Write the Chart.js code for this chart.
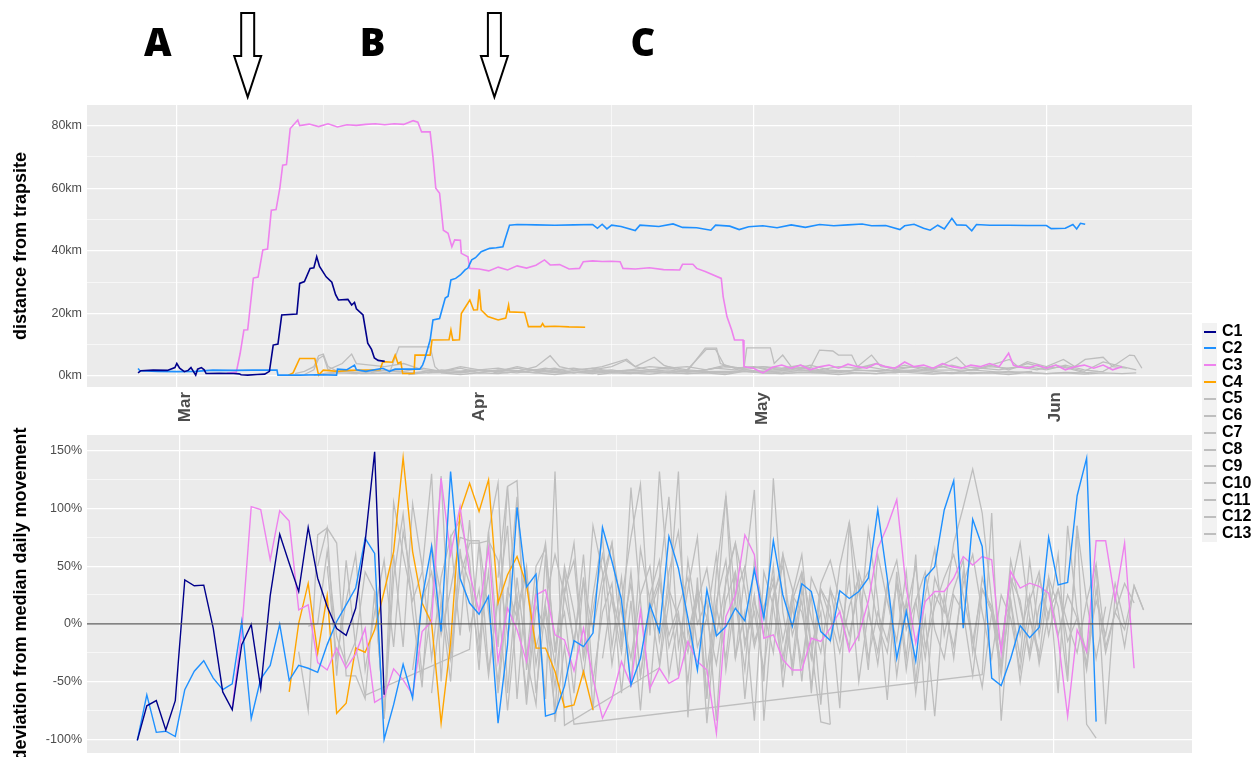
<!DOCTYPE html>
<html>
<head>
<meta charset="utf-8">
<script src="https://cdn.jsdelivr.net/npm/chart.js@4.4.0/dist/chart.umd.min.js"></script>
<style>
  html, body { margin: 0; padding: 0; background: #fff; width: 1257px; height: 757px; overflow: hidden; }
  #top { position: absolute; left: 0; top: 0; }
  #bottom { position: absolute; left: 0; top: 418px; }
  #legend { position: absolute; left: 1202px; top: 323px; font-family: 'Liberation Sans', Arial, sans-serif; }
  .row { position: relative; height: 16.86px; width: 60px; }
  .key { position: absolute; left: 0; top: 0; width: 15px; height: 100%; background: #f2f2f2; }
  .key i { position: absolute; left: 1.5px; right: 1.5px; top: 7.5px; height: 2px; }
  .lab { position: absolute; left: 20px; top: 0; line-height: 16.86px; font-size: 16px; font-weight: bold; color: #000; }
</style>
</head>
<body>
<canvas id="bottom" width="1257" height="352"></canvas>
<canvas id="top" width="1257" height="430"></canvas>
<div id="legend"></div>
<script>
// Series names and colours
const seriesNames = ['C1', 'C2', 'C3', 'C4', 'C5', 'C6', 'C7', 'C8', 'C9', 'C10', 'C11', 'C12', 'C13'];
const seriesColors = ['#00008B', '#1E90FF', '#EE82EE', '#FFA500', '#BEBEBE', '#BEBEBE', '#BEBEBE', '#BEBEBE', '#BEBEBE', '#BEBEBE', '#BEBEBE', '#BEBEBE', '#BEBEBE'];

// x axis: days since 1 March
const monthDays = [0, 31, 61, 92];
const monthLabels = ['Mar', 'Apr', 'May', 'Jun'];
const gridDays = [0, 15.5, 31, 46, 61, 76.5, 92];

// annotations above the top panel
const arrowDays = [7.5, 33.6];
const letterDays = [-2, 20.7, 49.3];
const letterTexts = ['A', 'B', 'C'];

// top panel: distance from trapsite [day, km]
const distC1 = [[-4.1,1],[-3.8,1.7],[-2.5,1.9],[-1,1.8],[-0.2,2.7],[0,4],[0.3,2.5],[0.8,1.4],[1.2,1.8],[1.5,2.7],[2,0.3],[2.2,2.2],[2.6,2.7],[2.9,2],[3.1,0.8],[4.5,0.9],[6,0.8],[6.6,0.7],[6.8,0.4],[7.5,0.3],[8.5,0.5],[9.3,0.6],[9.8,1.5],[10.2,9.9],[10.7,10.2],[11.1,19.5],[12.7,19.8],[13,29.6],[13.5,30.2],[14.1,34.4],[14.5,34.6],[14.8,38.1],[15.1,35],[15.8,31.7],[16.4,30],[16.8,26],[17.1,24.3],[18.1,24.5],[18.5,22.7],[18.8,23.5],[19,21.5],[19.7,19.5],[20.2,10.5],[20.6,8.5],[20.9,5.8],[21.3,5],[22,4.7]];
const distC2 = [[-4.1,2.4],[-3.9,1.7],[-2,1.5],[0,1.4],[2,1.5],[3.8,1.9],[6,1.8],[8,1.9],[10.6,1.9],[10.7,0.3],[13,0.3],[15,0.4],[16.9,0.3],[17,2.2],[18,2],[18.8,3.5],[19,2],[20,1.5],[21.8,2.5],[22.5,1.5],[23.1,2.2],[25.7,2.2],[26,3.5],[26.2,5.1],[26.8,11.5],[27.1,17.9],[27.8,18.4],[28.4,24.9],[28.7,25.5],[29,30.7],[29.5,31.2],[30,32.3],[30.5,33.9],[30.8,34.5],[31.2,37.1],[31.6,37.8],[32.2,39.7],[33.1,40.8],[33.8,41],[34.5,41.3],[34.7,43.4],[35.2,48.2],[36,48.4],[38,48.3],[40,48.2],[42,48.3],[44,48.4],[44.5,47.2],[45,48.5],[45.5,47],[46,48.2],[47,47.8],[48.5,46.5],[49,48.2],[51,47.8],[52.5,48.6],[53.5,47.5],[55,47.4],[56.5,46.6],[57,48.2],[58.5,47.9],[59.5,46.8],[60.5,47.7],[62,48],[63.5,47.4],[65,48.3],[66.5,47.5],[68,48.4],[69.5,48],[71,48.3],[72.5,48.6],[73.5,48],[75,48.1],[76.5,46.8],[77,48],[78,48.5],[79,47.2],[79.7,46.6],[80.5,48.2],[81.2,47],[82,50.4],[82.5,48.3],[83.5,48.2],[84.1,46.4],[84.6,48.4],[86,48.2],[88,48.2],[90,48.1],[92,48.1],[92.5,47.1],[94,47.2],[94.8,48.4],[95.2,47],[95.6,48.8],[96.1,48.5]];
const distC3 = [[5.3,0.9],[6.3,1.3],[6.7,7.2],[7.1,14.7],[7.5,14.8],[8.1,31.3],[8.6,31.6],[9.1,40.3],[9.6,40.6],[10,53],[10.5,53.2],[10.9,60],[11.2,67.4],[11.6,67.6],[12,79.1],[12.8,81.8],[13,80],[14,80.5],[15,79.7],[16,80.6],[17,79.6],[18,80.3],[19,80.1],[20,80.4],[21,80.6],[22,80.3],[23,80.6],[24,80.4],[25,81.6],[25.5,81.1],[25.9,78],[26.8,78],[27.1,70],[27.4,60],[27.8,58.4],[28.2,46.6],[28.7,45.6],[29.1,41.3],[29.4,43.5],[30,43.4],[30.1,39.2],[30.8,38.1],[31,34.4],[32,34.2],[33,33.6],[34,34.8],[35,33.9],[36,35.2],[37,34.5],[38,35.4],[38.9,37.1],[39.5,35.5],[40.5,35.6],[41.5,34.2],[42.6,34.4],[43,36.5],[44,36.8],[45,36.6],[46,36.7],[46.9,36.5],[47.2,34.4],[48.5,34.2],[50,34.6],[51.5,34],[53.2,33.9],[53.5,35.7],[54.6,35.7],[55,34.4],[55.9,33.4],[57.6,31.2],[57.8,25.4],[58.2,19],[58.7,14.7],[59,11.5],[59.9,11.5],[60,3],[61,2.5],[62,1],[63,2.8],[64,3.5],[65,2.5],[66,3.5],[67,2],[68,3],[69,3.5],[70,2.5],[71,3.8],[72,3],[73,2.5],[74,4],[75,3],[76,2.5],[77,4.5],[78,3],[79,3.5],[80,2.5],[81,4],[82,3],[83,2.5],[84,3.5],[85,3],[86,4],[87,3],[88,7.3],[88.5,3.5],[89,3],[90,2.5],[91,3.5],[92,2.5],[93,3.5],[94,2],[95,3],[96,3.5],[97,2.5],[98,3.5],[99,2],[100,3]];
const distC4 = [[11.8,0.3],[12.3,1],[13,5.6],[14.6,5.6],[14.8,3],[15,0.3],[15.5,1.9],[17,1.5],[18.3,1.8],[20,1.9],[21.5,2],[21.8,4.6],[22.8,4.4],[23.1,6.7],[23.4,4],[23.7,4.5],[23.9,0.8],[25.1,0.8],[25.2,6.7],[26.8,6.7],[27,11.5],[28.8,11.6],[29,14.7],[29.2,11.5],[29.9,11.6],[30.1,20],[31,24.3],[31.4,21.1],[31.8,21.2],[32,27.7],[32.2,21.1],[32.9,19],[34,17.9],[34.8,18.5],[35.1,22.7],[35.2,20.5],[36.8,20.3],[37.2,15.8],[38.5,15.8],[38.7,16.8],[38.9,15.8],[40,15.9],[41.5,15.7],[43.2,15.6]];
const distC5 = [[12.5,0.8],[13.5,1.5],[14.5,3],[15,6.5],[15.5,7],[16,3],[17,1.5],[19,1.2],[21,2],[23,1.5],[25,1],[27,1.8],[29,1.2],[31,2],[33,1.5],[35,1],[37,2.2],[39,1.5],[41,1.2],[84.5,2],[86,3.5],[88,2],[90,4],[92,2.5],[94,3],[96,1.5],[98,4.5],[100,3],[101.5,2]];
const distC6 = [[13.5,0.5],[14.5,2],[15,5.5],[15.5,6.5],[16,2],[17.5,4],[18.5,7],[19,4],[20.5,3.5],[22,3],[24,4],[26,2],[28,1.5],[30,2.5],[32,1],[34,1.8],[36,2.5],[38,1.5],[40.5,1],[50.5,2],[52,3],[54,2],[56,8.5],[57,8.5],[58,3],[60,2.5],[62,3],[64,2],[66,2.5],[68.5,1.5]];
const distC7 = [[14.5,0.3],[16,1],[18,1.5],[19.5,0.8],[30.5,1.2],[32,2],[34,1.5],[36,3],[38,1.8],[40,2.5],[42,1],[44,2],[46,3],[47.5,5],[48.5,3],[50.5,6],[51.5,3.5],[53,2],[55,1.5],[57,2.5],[59,2],[61,3],[63,1.5],[65,2],[67,3.5],[69,2],[71,1.5],[73,3],[75,2],[77,3.5],[79,2],[81,3],[83,1.5],[85,2.5],[87,2],[89,3],[91,2],[93,3.5],[95.5,1.5],[96.5,0.8]];
const distC8 = [[15.5,0.5],[17,1],[19,0.8],[21,1.5],[22.5,1],[23.5,9.3],[26.8,9.3],[27.3,3],[28,1],[30,0.5],[32,1],[34,0.8],[36,1.5],[38,1],[40,0.5],[42,1.2],[44,0.8],[46,1.5],[48,1],[50,0.6],[52,1.2],[54,0.8],[56,1],[58,0.5],[60,1.5],[62,1],[64,0.8],[66,1.2],[68,1],[70,0.5],[72,1],[74,0.8],[76,1.5],[78,1],[80,0.6],[82,1.2],[84,0.8],[86,1],[88,0.5],[90,1.2],[92,0.8],[94,1],[96,0.6],[98,1],[100,0.8],[101.5,1]];
const distC9 = [[20.5,1],[22,2],[24,1.5],[26,2.5],[28,1.5],[30,3],[32,2],[34,2.5],[36,1.5],[38,3],[39.5,6.5],[40.5,3],[42,2],[44,2.5],[46,1.5],[48,2],[50,3],[52,2.5],[54,1.5],[55.9,8.9],[57.1,8.9],[57.5,4],[59,2.5],[61,3],[63,2],[65,2.5],[67,1.5],[68.5,1]];
const distC10 = [[24.5,0.5],[26,1],[28,2],[30,1.5],[32,1.2],[34,2],[36,1.5],[38,1],[40,2],[42,2.5],[44,1.5],[46,2],[48,1],[50,1.5],[52,2],[54,1.2],[56,2],[58,3],[60,2.5],[60.3,9],[62.8,9],[63.2,4],[64.1,6.7],[65,3],[67,2.5],[68,8.3],[69.4,8],[70,6.7],[71.4,6.7],[72,3],[73.5,6.7],[74.5,3],[76,2.5],[78,3],[80,2],[82.5,6],[83.5,3],[85,2.5],[88.1,5.3],[89,3],[90,4.6],[92,3],[93.8,5.3],[95,3],[96.1,5.3],[98,6],[99,3],[100.5,2.5]];
const distC11 = [[26.5,1],[28,1.5],[30,1],[32,2],[34,1.5],[36,1],[38,2],[40,1.5],[42,1],[44,1.8],[46,1.2],[48,2],[50,1.5],[52,1],[54,2],[56,1.5],[58,1],[60,2],[62,1.5],[64,1],[66,2],[68,1.5],[70,1],[72,2],[74,1.5],[76,1],[78,2],[80,1.5],[82,1],[84,2],[86,1.5],[88,1],[90.5,1.5]];
const distC12 = [[33.5,1],[35,2],[37,1.5],[39,2.5],[41,1.5],[43,2],[45,3],[47.6,5.4],[48.5,3],[50,2],[52,2.5],[54,3],[56,2],[58,3.5],[60,2],[62,3],[64,2.5],[66,3.5],[68,2],[70,3],[72,2.5],[74,4],[76,2],[78,3],[80,2.5],[82,3.5],[84,2],[86,3],[88,2.5],[90,3],[92,2],[94,3.5],[96,2],[97.5,1.5]];
const distC13 = [[44.5,0.5],[46,1],[48,0.8],[50,1.5],[52,1],[54,0.8],[56,1.2],[58,1],[60,1.5],[62,1],[64,0.8],[66,1.2],[68,1],[70,1.5],[72,1],[74,0.8],[76,1.2],[78,1.5],[80,1],[82,0.8],[84,1.2],[86,1],[88,1.5],[90,1],[92,0.8],[94,1.2],[96,1],[98,1.5],[99.5,4],[100.8,6.7],[101.3,6.5],[102.1,2.5]];

// bottom panel: daily deviation from median movement (%), one value per day from the start day
const devStart = [-4.5, -4.5, 5.5, 11.5, 12.5, 13.5, 14.5, 15.5, 20.5, 24.5, 26.5, 33.5, 44.5];
const devC1 = [-101, -71, -66.5, -92, -66.5, 38, 33, 33.5, -4, -59, -74.5, -18, -0.5, -56, 24.5, 77.6, 52.5, 28, 83.5, 39.5, 15, -4, -10, 13.5, 71, 149, -61.5];
const devC2 = [-101, -61.5, -94, -93, -97.6, -57, -41, -32, -47, -57, -52, 2, -82, -47.7, -36, -0.5, -49, -36, -38.5, -42, -18, 2, 16.5, 31, 74, 61, -100, -70, -35, -64.5, 22, 67, -6.7, 132, 39.5, 18, 8.3, 24, -86, -18, 101, 32, 43, -80, -77.5, -54, -14.5, -19.7, -8, 83.5, 54, 21, -53, -30, 16.5, -6.7, 75.6, 48, 5, -40, 29.5, -10.4, -2.3, 13.5, 2.6, 47, 5, 72, 25, -2.3, 34.7, 28, -6.7, -14.5, 28.6, 22, 28, 39.5, 99, 39.5, -30, 10.7, -32, 40, 49.6, 98.7, 124, -3.8, 90.6, 67, -47, -53.5, -30, -1.5, -12, -3.2, 74.8, 33.8, 35.8, 111, 143.5, -84.7];
const devC3 = [-73, -6.7, 101.6, 99, 55.5, 98, 89, 12, 16.5, -33.5, -40, -21, -38.5, -26, -4, -68, -63, -39, -48.5, -61.5, -6.7, 2, 126, 60, 101.6, 44, 10.7, 65.5, -32.7, 13.5, -5.2, -32.7, 25, 29.5, -9.5, -14, -40.7, -3.8, -47, -81.8, -64.5, -32.7, -53, 11.3, -55.8, -38.5, -51.5, -47, -15.3, -32.7, -40, -94.8, 6.3, 25, 77, 60, -12.5, -9.5, -31, -40, -40, -12.5, -15.3, -3.8, 10.7, -24, -9.5, 19.3, 65.5, 84.3, 107.5, 31, -16.8, 19.3, 28, 28, 39.5, 58.3, 51, 58.3, 55.5, -25.5, 45.3, 31, 35.2, 32.5, 26.5, -12.5, -80, -5.2, -24, 72, 72, 20.8, 70, -38.5];
const devC4 = [-59, 0.5, 35, -25.5, 24.5, -77.5, -68.8, -21, -24.6, -5.2, 28, 62.6, 144, 62.6, 18, 0.5, -86, -16.8, 97.3, 121.8, 97.3, 124.8, 18, 42.5, 58.3, 33.8, -21, -21, -41.3, -72.3, -70.2, -41.3, -74.5];
const devC5 = [-24, -75, 77, 83, 70, -45, -45, -65, 28, -82, 105, 60, 20, 45, 130, -50, 75, 90, 55, -40, 80, 122, -60, 40, -30, -70, 60, -85, -20, -87, ...gap(42), -44, 96, -84, 20, -30, 55, -10, 40, -60, 85, 10, -35, 50, -87, 25, -20, 33, 12];
const devC6 = [-2, 0, 63, -11, -35, -15, 45, 28, -82, 40, 95, 10, -55, 68, 25, -30, 60, 35, -25, 80, -20, 119, 124, -40, 30, -65, 132, -88, ...gap(9), -38, 20, 132, -81, 40, -86, 10, 111, -30, 45, 116, -84, 20, 60, -45, 30, -20, -85, -87];
const devC7 = [50, 83, -45, 55, -20, -62, ...gap(10), -22, 70, -40, 20, 85, -65, 40, -20, 10, -55, 25, 70, -30, 85, 45, -35, 20, 75, 121, -10, 132, 30, -45, 55, 0, 20, -84, 40, 70, -20, 25, -50, 126, 10, -35, 45, -60, 30, 15, -73, 88, -15, 82, 20, -66, 45, -30, 60, -75, 25, 10, 70, 101, 134, 96, 20, -40, 55, 15, -25, 40, 5, 60, -45, 85, -87, -99];
const devC8 = [50, -30, 20, 60, -40, 10, 55, -20, 80, 35, -45, 15, 128, -30, 40, 70, 70, 72, 55, -10, 25, -70, 15, -5, -75, 30, 55, -30, 12, 60, 20, -25, 45, -45, 10, 35, -10, 15, 40, -20, 5, 60, -40, 25, 50, -15, 10, 35, -30, 20, 45, 5, -25, 30, 10, -20, 45, 15, -35, 30, 55, -5, 20, -30, 40, 15, -20, 35, 60, 10, -30, 25, 5, -40, 20, 45, -10, 30, 0, -25, 20, 52, -20, 10, -5, 33, 12];
const devC9 = [28, -82, 60, -20, 104, 50, -30, 40, 75, -10, 90, -15, 45, -60, 20, 110, -30, 50, 65, -20, 10, -60, 40, -75, 30, 70, -20, 118, 20, -60, 40, 110, -20, 30, 75, -40, 20, 55, -30, 10, -84, 45, 15, -40, 25, 60, -20, 10, -87];
const devC10 = [-40, 20, 45, -10, 30, 75, 72, 72, 10, -50, 30, 5, 45, -35, 20, 60, 25, -15, 38, -5, 40, 70, 10, -30, 25, 50, -15, 30, 5, -25, 20, 48, -10, 35, 70, 30, -20, 15, 40, -15, 25, 10, -30, 35, 55, 20, -10, 30, 45, 0, -25, 35, 10, 50, -20, 15, 40, 60, 25, -15, 30, 10, -20, 40, 20, -30, 15, 35, -10, 25, 5, -40, 30, -25, 10, 35, 18];
const devC11 = [-60, 20, -50, 65, -5, 30, -45, 25, -75, 10, 50, -60, 15, -35, 45, -20, 60, -50, 10, 35, -60, 20, -75, 25, 55, -45, 5, -20, 30, -60, 15, -30, 45, -65, 20, -10, 50, -55, 15, -35, 25, -70, 30, -15, 40, -50, 10, -25, 35, -45, 20, -60, 5, -80, 25, -30, 45, -15, -55, 10, -35, 20, -50, 5, -25];
const devC12 = [40, 119, 10, -60, 30, 70, -25, 50, 10, -45, 25, 75, -20, 40, -55, 65, 20, -35, 45, 80, -10, 30, -65, 45, 111, 20, -40, 55, 10, -25, 60, 30, -50, 40, 20, -15, 50, 88, 30, -40, 60, 20, -15, 45, -50, 25, 65, -10, 30, 55, -25, 40, 10, -45, 30, 70, 5, -30, 40, 15, -50, 85, 20, -30, 15];
const devC13 = [-30, 25, -10, 35, -45, 15, 40, -20, 10, -50, 30, 5, -35, 20, 45, -15, 10, -40, 25, 50, -10, 20, -55, 30, 5, -25, 15, 40, -30, 10, -15, 35, -40, 20, 45, -5, -30, 25, 10, -45, 30, 15, -20, 40, -10, 25, -35, 10, 30, -15, 5, -25, 20, -10, 35, 0];

// axis ticks
const kmTicks = [0, 10, 20, 30, 40, 50, 60, 70, 80];
const pctTicks = [-100, -75, -50, -25, 0, 25, 50, 75, 100, 125, 150];

function gap(n) {
  return Array(n).fill(null);
}

const distSeries = [distC1, distC2, distC3, distC4, distC5, distC6, distC7, distC8, distC9, distC10, distC11, distC12, distC13];
const devSeries = [devC1, devC2, devC3, devC4, devC5, devC6, devC7, devC8, devC9, devC10, devC11, devC12, devC13];

Chart.defaults.font.family = "'Liberation Sans', Arial, sans-serif";
Chart.defaults.animation = false;

// grey panel background, drawn before the grid
const panelBg = {
  id: 'panelBg',
  beforeDraw(chart) {
    const { ctx, chartArea: a } = chart;
    ctx.save();
    ctx.fillStyle = '#EBEBEB';
    ctx.fillRect(a.left, a.top, a.right - a.left, a.bottom - a.top);
    ctx.restore();
  }
};

// A / B / C labels and hollow arrows above the top panel
const markers = {
  id: 'markers',
  afterDraw(chart) {
    const { ctx } = chart;
    const x = chart.scales.x;
    ctx.save();
    ctx.fillStyle = '#000';
    ctx.font = "800 38px 'Open Sans', 'Liberation Sans', sans-serif";
    ctx.textAlign = 'center';
    ctx.textBaseline = 'alphabetic';
    letterDays.forEach((d, i) => ctx.fillText(letterTexts[i], x.getPixelForValue(d), 56));
    ctx.lineWidth = 2;
    ctx.strokeStyle = '#000';
    ctx.fillStyle = '#fff';
    arrowDays.forEach(d => {
      const cx = x.getPixelForValue(d);
      ctx.beginPath();
      ctx.moveTo(cx - 6.5, 13);
      ctx.lineTo(cx + 6.5, 13);
      ctx.lineTo(cx + 6.5, 56);
      ctx.lineTo(cx + 13.5, 56);
      ctx.lineTo(cx, 97);
      ctx.lineTo(cx - 13.5, 56);
      ctx.lineTo(cx - 6.5, 56);
      ctx.closePath();
      ctx.fill();
      ctx.stroke();
    });
    ctx.restore();
  }
};

function xScale(min, max, showLabels, height) {
  return {
    type: 'linear',
    min, max,
    afterBuildTicks: s => { s.ticks = gridDays.map(v => ({ value: v })); },
    afterFit: s => { s.height = height; s.paddingLeft = 0; s.paddingRight = 0; },
    border: { display: false },
    grid: {
      color: '#fff',
      drawTicks: false,
      lineWidth: c => monthDays.includes(c.tick.value) ? 1.2 : 0.6
    },
    ticks: {
      display: showLabels,
      autoSkip: false,
      minRotation: 90,
      maxRotation: 90,
      padding: 5,
      labelOffset: 9,
      color: '#4d4d4d',
      font: { size: 17, weight: 'bold' },
      callback: v => monthDays.includes(v) ? monthLabels[monthDays.indexOf(v)] : ''
    }
  };
}

function yScale(min, max, ticks, major, suffix, title) {
  return {
    min, max,
    afterBuildTicks: s => { s.ticks = ticks.map(v => ({ value: v })); },
    afterFit: s => { s.width = 87; s.paddingTop = 0; s.paddingBottom = 0; },
    border: { display: false },
    grid: {
      color: '#fff',
      drawTicks: false,
      lineWidth: c => c.tick.value % major === 0 ? 1.2 : 0.6
    },
    ticks: {
      padding: 5,
      color: '#4d4d4d',
      font: { size: 12.5 },
      callback: v => v % major === 0 ? v + suffix : ''
    },
    title: {
      display: true,
      text: title,
      color: '#000',
      font: { size: 18, weight: 'bold' },
      padding: { top: 10, bottom: 0 }
    }
  };
}

function lineDataset(i, data, grayWidth, colorWidth) {
  return {
    label: seriesNames[i],
    data,
    borderColor: seriesColors[i],
    borderWidth: i < 4 ? colorWidth : grayWidth,
    pointRadius: 0,
    tension: 0,
    spanGaps: true,
    fill: false
  };
}

// Top panel: distance from trapsite
new Chart(document.getElementById('top'), {
  type: 'line',
  data: {
    datasets: distSeries.map((s, i) => lineDataset(i, s.map(([x, y]) => ({ x, y })), 1.3, 1.6))
  },
  options: {
    responsive: false,
    devicePixelRatio: 1,
    layout: { padding: { top: 105, right: 65, left: 0, bottom: 0 } },
    plugins: { legend: { display: false }, tooltip: { enabled: false } },
    scales: {
      x: xScale(-9.5, 107.4, true, 43),
      y: yScale(-3.5, 86.6, kmTicks, 20, 'km', 'distance from trapsite')
    }
  },
  plugins: [panelBg, markers]
});

// Bottom panel: deviation from median daily movement
const bottomMin = -9.8, bottomMax = 106.6;
const devDatasets = devSeries.map((s, i) =>
  lineDataset(i, s.map((v, k) => ({ x: devStart[i] + k, y: v })), 1.3, 1.4));
devDatasets.push({
  label: 'zero',
  data: [{ x: bottomMin, y: 0 }, { x: bottomMax, y: 0 }],
  borderColor: '#5a5a5a',
  borderWidth: 1.1,
  pointRadius: 0,
  order: -1
});

new Chart(document.getElementById('bottom'), {
  type: 'line',
  data: { datasets: devDatasets },
  options: {
    responsive: false,
    devicePixelRatio: 1,
    layout: { padding: { top: 17, right: 65, left: 0, bottom: 0 } },
    plugins: { legend: { display: false }, tooltip: { enabled: false } },
    scales: {
      x: xScale(bottomMin, bottomMax, false, 17),
      y: yScale(-111.9, 163.6, pctTicks, 50, '%', 'deviation from median daily movement')
    }
  },
  plugins: [panelBg]
});

// Legend
document.getElementById('legend').innerHTML = seriesNames.map((n, i) => `
  <div class="row"><span class="key"><i style="background:${seriesColors[i]}"></i></span><span class="lab">${n}</span></div>
`).join('');
</script>
</body>
</html>
